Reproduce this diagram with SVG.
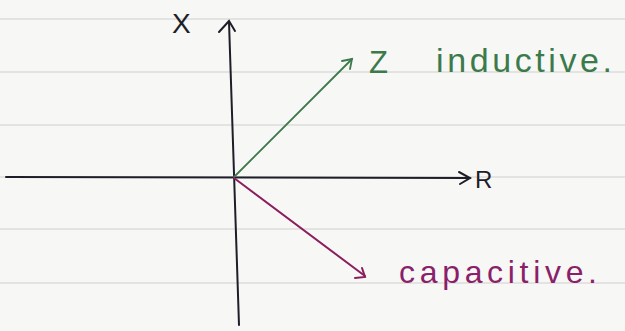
<svg xmlns="http://www.w3.org/2000/svg" width="625" height="331" viewBox="0 0 625 331">
<style>
.rule{stroke:#cfcfcf;stroke-width:1.2;fill:none}
.ax{stroke:#1e1e28;stroke-width:2;fill:none;stroke-linecap:round}
.z{stroke:#3c7a4c;stroke-width:1.8;fill:none;stroke-linecap:round}
.c{stroke:#8a1f5e;stroke-width:2;fill:none;stroke-linecap:round}
.t{font-family:"Liberation Sans","DejaVu Sans",sans-serif}
</style>
<rect width="625" height="331" fill="#f7f7f5"/>
<g id="ruling">
<line class="rule" x1="0" y1="19" x2="625" y2="19"/>
<line class="rule" x1="0" y1="72" x2="625" y2="72"/>
<line class="rule" x1="0" y1="125" x2="625" y2="125"/>
<line class="rule" x1="0" y1="177" x2="625" y2="177"/>
<line class="rule" x1="0" y1="229" x2="625" y2="229"/>
<line class="rule" x1="0" y1="283" x2="625" y2="283"/>
</g>
<g id="connectors">
<path class="ax" d="M239 325 L229 22"/>
<path class="ax" d="M219 32 L229 21 L235 31"/>
<path class="ax" d="M6 177 L470 178"/>
<path class="ax" d="M459 172 L470 178 L460 184"/>
<path class="z" d="M234 177 L352 59"/>
<path class="z" d="M342 61 L352 59 L350 69"/>
<path class="c" d="M234 178 L365 276"/>
<path class="c" d="M355 278 L365 277 L362 268"/>
</g>
<g id="label-x"><text class="t" x="172" y="33" font-size="28" fill="#1e1e28">X</text></g>
<g id="label-r"><text class="t" x="475" y="188" font-size="24" fill="#1e1e28">R</text></g>
<g id="label-z"><text class="t" x="369" y="73" font-size="31" fill="#3c7a4c">Z</text>
<text class="t" x="436" y="72" font-size="34" fill="#3c7a4c" textLength="176" lengthAdjust="spacing">inductive.</text></g>
<g id="label-cap"><text class="t" x="399" y="283" font-size="32" fill="#8a1f6a" textLength="198" lengthAdjust="spacing">capacitive.</text></g>
</svg>
